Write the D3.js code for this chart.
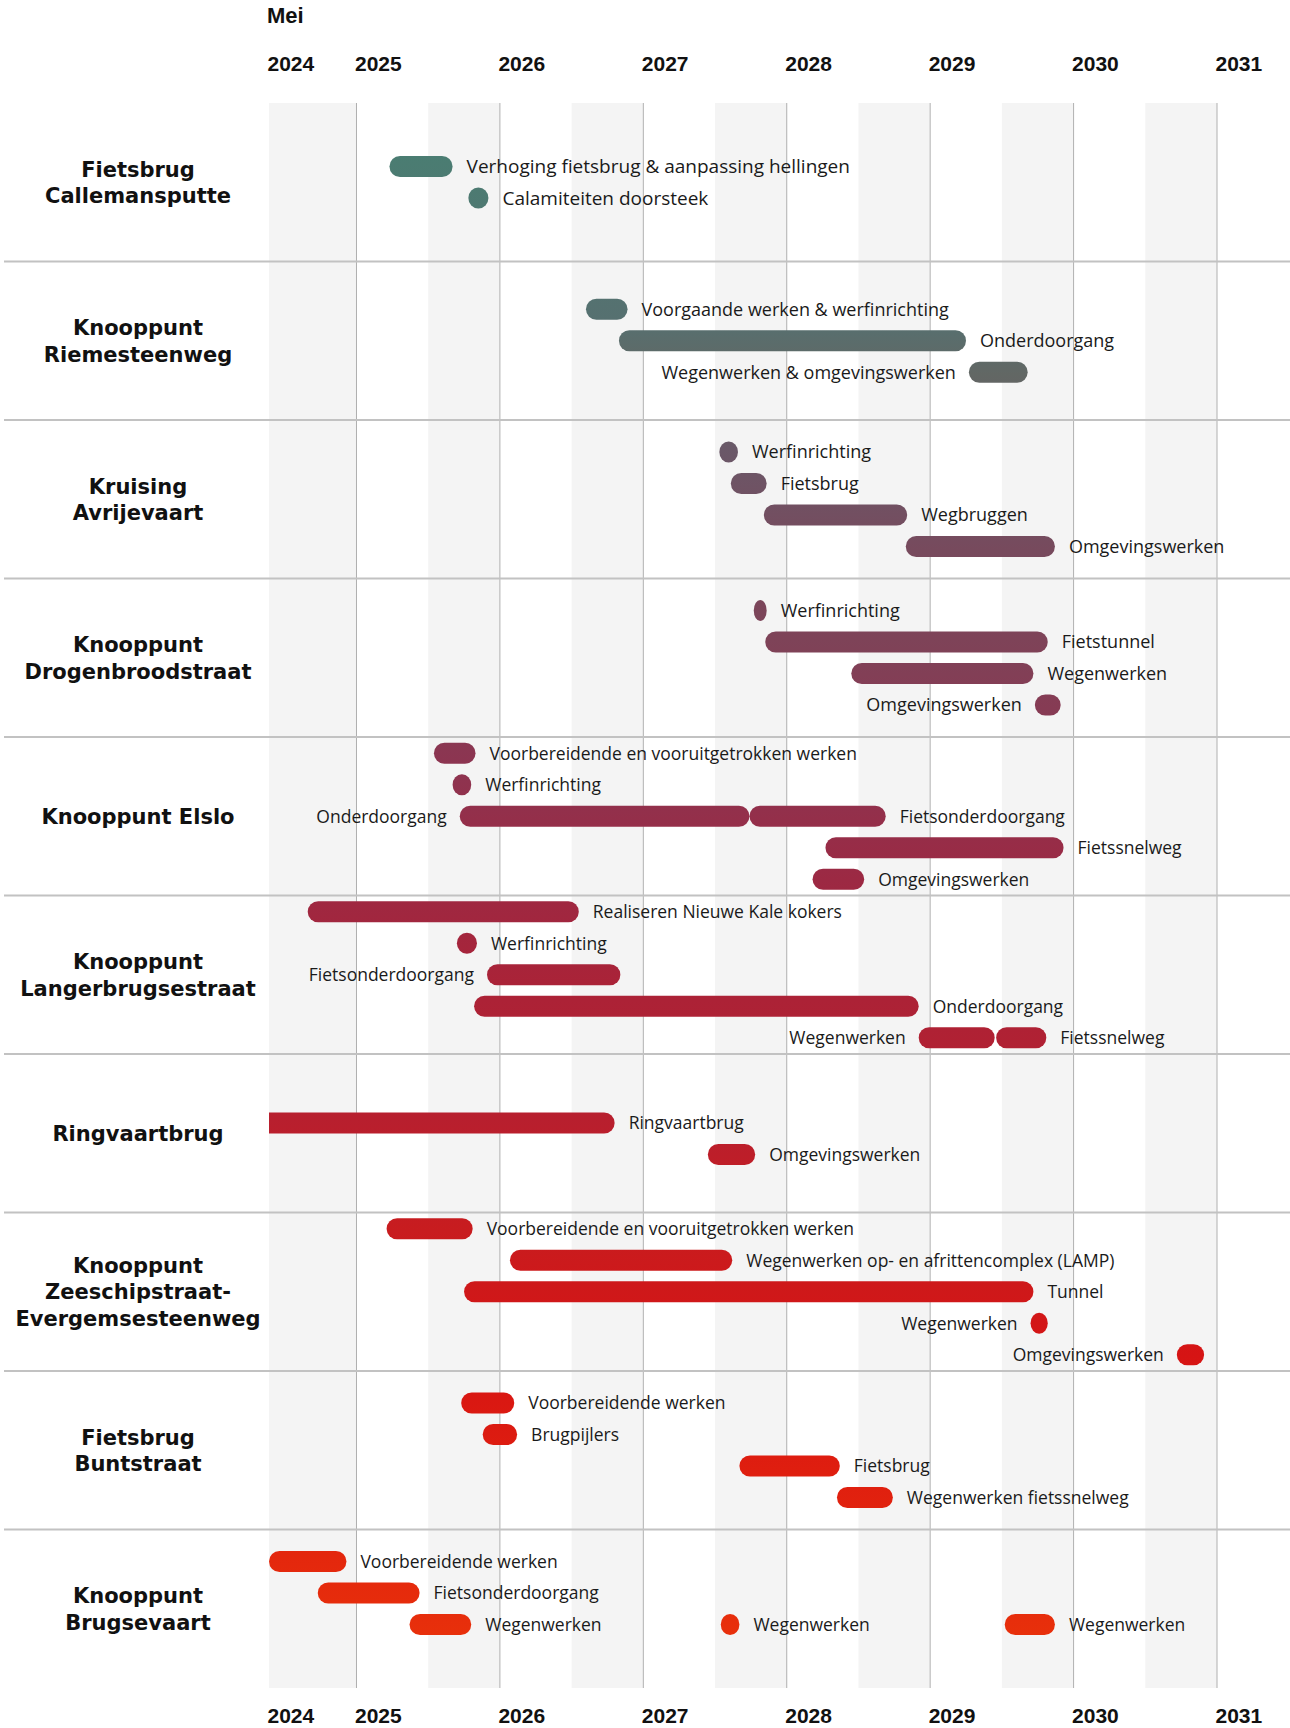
<!DOCTYPE html>
<html><head><meta charset="utf-8">
<script src="https://cdn.jsdelivr.net/npm/d3@7"></script>
<style>body{margin:0;background:#fff}svg{display:block}</style>
</head><body><svg id="chart" width="1290" height="1728"></svg>
<script>
// ---------- DATA ----------
const categories = [
  "Fietsbrug\nCallemansputte",
  "Knooppunt\nRiemesteenweg",
  "Kruising\nAvrijevaart",
  "Knooppunt\nDrogenbroodstraat",
  "Knooppunt Elslo",
  "Knooppunt\nLangerbrugsestraat",
  "Ringvaartbrug",
  "Knooppunt\nZeeschipstraat-\nEvergemsesteenweg",
  "Fietsbrug\nBuntstraat",
  "Knooppunt\nBrugsevaart"
];
const laneCounts = [2, 3, 4, 4, 5, 5, 2, 5, 4, 4];
const monthLabel = "Mei";
const yearTicks = [2024, 2025, 2026, 2027, 2028, 2029, 2030, 2031];
const domainStart = 2024.39;   // mei 2024
const domainEnd = 2031;
const shadedPeriods = [[2024.39, 2025], [2025.5, 2026], [2026.5, 2027], [2027.5, 2028], [2028.5, 2029], [2029.5, 2030], [2030.5, 2031]];

// [name, lane, start, end, label side]
const tasksCallemansputte = [
  ["Verhoging fietsbrug & aanpassing hellingen", 0, 2025.23, 2025.67, "r"],
  ["Calamiteiten doorsteek", 1, 2025.78, 2025.92, "r"]
];
const tasksRiemesteenweg = [
  ["Voorgaande werken & werfinrichting", 0, 2026.60, 2026.89, "r"],
  ["Onderdoorgang", 1, 2026.83, 2029.25, "r"],
  ["Wegenwerken & omgevingswerken", 2, 2029.27, 2029.68, "l"]
];
const tasksAvrijevaart = [
  ["Werfinrichting", 0, 2027.53, 2027.66, "r"],
  ["Fietsbrug", 1, 2027.61, 2027.86, "r"],
  ["Wegbruggen", 2, 2027.84, 2028.84, "r"],
  ["Omgevingswerken", 3, 2028.83, 2029.87, "r"]
];
const tasksDrogenbroodstraat = [
  ["Werfinrichting", 0, 2027.77, 2027.86, "r"],
  ["Fietstunnel", 1, 2027.85, 2029.82, "r"],
  ["Wegenwerken", 2, 2028.45, 2029.72, "r"],
  ["Omgevingswerken", 3, 2029.73, 2029.91, "l"]
];
const tasksElslo = [
  ["Voorbereidende en vooruitgetrokken werken", 0, 2025.54, 2025.83, "r"],
  ["Werfinrichting", 1, 2025.67, 2025.80, "r"],
  ["Onderdoorgang", 2, 2025.72, 2027.74, "l"],
  ["Fietsonderdoorgang", 2, 2027.74, 2028.69, "r"],
  ["Fietssnelweg", 3, 2028.27, 2029.93, "r"],
  ["Omgevingswerken", 4, 2028.18, 2028.54, "r"]
];
const tasksLangerbrugsestraat = [
  ["Realiseren Nieuwe Kale kokers", 0, 2024.66, 2026.55, "r"],
  ["Werfinrichting", 1, 2025.70, 2025.84, "r"],
  ["Fietsonderdoorgang", 2, 2025.91, 2026.84, "l"],
  ["Onderdoorgang", 3, 2025.82, 2028.92, "r"],
  ["Wegenwerken", 4, 2028.92, 2029.45, "l"],
  ["Fietssnelweg", 4, 2029.46, 2029.81, "r"]
];
const tasksRingvaartbrug = [
  ["Ringvaartbrug", 0, 2023.50, 2026.80, "r"],
  ["Omgevingswerken", 1, 2027.45, 2027.78, "r"]
];
const tasksZeeschipstraat = [
  ["Voorbereidende en vooruitgetrokken werken", 0, 2025.21, 2025.81, "r"],
  ["Wegenwerken op- en afrittencomplex (LAMP)", 1, 2026.07, 2027.62, "r"],
  ["Tunnel", 2, 2025.75, 2029.72, "r"],
  ["Wegenwerken", 3, 2029.70, 2029.82, "l"],
  ["Omgevingswerken", 4, 2030.72, 2030.91, "l"]
];
const tasksBuntstraat = [
  ["Voorbereidende werken", 0, 2025.73, 2026.10, "r"],
  ["Brugpijlers", 1, 2025.88, 2026.12, "r"],
  ["Fietsbrug", 2, 2027.67, 2028.37, "r"],
  ["Wegenwerken fietssnelweg", 3, 2028.35, 2028.74, "r"]
];
const tasksBrugsevaart = [
  ["Voorbereidende werken", 0, 2024.39, 2024.93, "r"],
  ["Fietsonderdoorgang", 1, 2024.73, 2025.44, "r"],
  ["Wegenwerken", 2, 2025.37, 2025.80, "r"],
  ["Wegenwerken", 2, 2027.54, 2027.67, "r"],
  ["Wegenwerken", 2, 2029.52, 2029.87, "r"]
];
const tasksByCategory = [tasksCallemansputte, tasksRiemesteenweg, tasksAvrijevaart, tasksDrogenbroodstraat,
  tasksElslo, tasksLangerbrugsestraat, tasksRingvaartbrug, tasksZeeschipstraat, tasksBuntstraat, tasksBrugsevaart];

// ---------- LAYOUT / STYLE ----------
const W = 1290, H = 1728;
const plotTop = 103, plotBottom = 1688, plotLeft = 269, plotRight = 1217;
const laneStep = 31.5, barH = 21;
const labelFont = "'Open Sans', 'Noto Sans', sans-serif";
const headFont = "'DejaVu Sans', sans-serif";
const axisFont = "'Liberation Sans', Arial, sans-serif";
const taskFontSizes = [19, 18, 18, 18, 17.5, 17.5, 17.5, 17.5, 17.5, 17.5];
const laneShift = [0, 0, 0, 0, 0, 0, 5.5, 0, 0, 0];   // visual vertical nudge per block
const gradientStops = [
  [150, "#4a7d72"], [320, "#567070"], [375, "#626764"], [450, "#6a5868"], [550, "#774a5d"],
  [640, "#7e4358"], [760, "#8c3551"], [880, "#9c2943"], [1000, "#ac2236"], [1120, "#b81f2e"],
  [1230, "#c81c1f"], [1355, "#d61414"], [1470, "#df1e0f"], [1640, "#e8300b"]
];

const svg = d3.select("#chart");
const x = d3.scaleLinear().domain([domainStart, domainEnd]).range([plotLeft, plotRight]);
const yRow = d3.scaleBand().domain(d3.range(categories.length)).range([plotTop, plotBottom]);

// defs
const defs = svg.append("defs");
const g0 = gradientStops[0][0], g1 = gradientStops[gradientStops.length - 1][0];
const grad = defs.append("linearGradient").attr("id", "barGrad")
  .attr("gradientUnits", "userSpaceOnUse")
  .attr("x1", 0).attr("y1", g0).attr("x2", 0).attr("y2", g1);
grad.selectAll("stop").data(gradientStops).join("stop")
  .attr("offset", d => (d[0] - g0) / (g1 - g0))
  .attr("stop-color", d => d[1]);
defs.append("clipPath").attr("id", "plotClip").append("rect")
  .attr("x", plotLeft).attr("y", 0).attr("width", W - plotLeft).attr("height", H);

// shaded half-years
svg.append("g").selectAll("rect").data(shadedPeriods).join("rect")
  .attr("x", d => x(d[0])).attr("width", d => x(d[1]) - x(d[0]))
  .attr("y", plotTop).attr("height", plotBottom - plotTop)
  .attr("fill", "#f4f4f4");

// year grid lines
svg.append("g").selectAll("line").data(yearTicks.filter(t => t > domainStart)).join("line")
  .attr("x1", d => x(d)).attr("x2", d => x(d))
  .attr("y1", plotTop).attr("y2", plotBottom)
  .attr("stroke", "#b0b0b0").attr("stroke-width", 1);

// row separators
svg.append("g").selectAll("line").data(d3.range(1, categories.length)).join("line")
  .attr("x1", 4).attr("x2", W)
  .attr("y1", d => yRow(d)).attr("y2", d => yRow(d))
  .attr("stroke", "#c2c2c2").attr("stroke-width", 2);

// axes
const tickPos = yearTicks.map(t => Math.max(t, domainStart));
function drawAxis(yPos) {
  const ax = d3.axisTop(x).tickValues(tickPos).tickSize(0).tickPadding(0)
    .tickFormat((d, i) => yearTicks[i]);
  const g = svg.append("g").attr("transform", `translate(0,${yPos})`).call(ax);
  g.select(".domain").remove();
  g.selectAll("text").attr("text-anchor", "start").attr("dx", -2).attr("dy", 0)
    .attr("font-family", axisFont).attr("font-weight", 700).attr("font-size", 21).attr("fill", "#111");
}
drawAxis(71);
drawAxis(1723);
svg.append("text").attr("x", x(domainStart) - 2).attr("y", 23).text(monthLabel)
  .attr("font-family", axisFont).attr("font-weight", 700).attr("font-size", 22).attr("fill", "#111");

// category labels
categories.forEach((c, i) => {
  const lines = c.split("\n");
  const cy = yRow(i) + yRow.bandwidth() / 2;
  const t = svg.append("text").attr("text-anchor", "middle")
    .attr("font-family", headFont).attr("font-weight", 700).attr("font-size", 21)
    .attr("fill", "#111");
  lines.forEach((l, j) => {
    t.append("tspan").attr("x", 138)
      .attr("y", cy + (j - (lines.length - 1) / 2) * 26.5 + 7.7).text(l);
  });
});

// bars and labels
const barLayer = svg.append("g").attr("clip-path", "url(#plotClip)");
const labelLayer = svg.append("g");
tasksByCategory.forEach((tasks, ci) => {
  const cy = yRow(ci) + yRow.bandwidth() / 2 + laneShift[ci];
  const laneY = l => cy + (l - (laneCounts[ci] - 1) / 2) * laneStep;
  barLayer.selectAll(null).data(tasks).join("rect")
    .attr("x", d => x(d[2])).attr("width", d => x(d[3]) - x(d[2]))
    .attr("y", d => laneY(d[1]) - barH / 2).attr("height", barH)
    .attr("rx", barH / 2)
    .attr("fill", "url(#barGrad)");
  labelLayer.selectAll(null).data(tasks).join("text")
    .attr("x", d => d[4] === "r" ? x(d[3]) + 14 : x(d[2]) - 13)
    .attr("y", d => laneY(d[1]))
    .attr("dy", "0.36em")
    .attr("text-anchor", d => d[4] === "r" ? "start" : "end")
    .attr("font-family", labelFont).attr("font-size", taskFontSizes[ci]).attr("fill", "#1a1a1a")
    .text(d => d[0]);
});
</script></body></html>
